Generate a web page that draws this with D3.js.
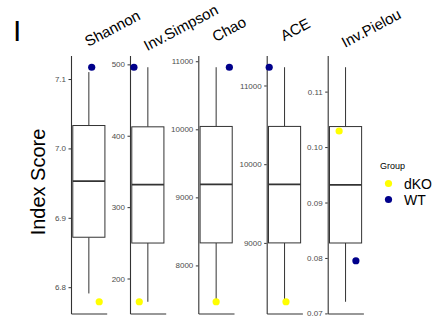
<!DOCTYPE html>
<html>
<head>
<meta charset="utf-8">
<script src="https://cdn.jsdelivr.net/npm/d3@7"></script>
<style>
  html, body { margin: 0; padding: 0; background: #fff; }
  svg { display: block; font-family: "Liberation Sans", Arial, Helvetica, sans-serif; }
</style>
</head>
<body>
<svg id="chart" width="445" height="327"></svg>
<script>
// ---- data ----
const metrics   = ["Shannon", "Inv.Simpson", "Chao", "ACE", "Inv.Pielou"];
const boxMin    = [6.791, 167.4, 7466, 8252, 0.0721];
const boxQ1     = [6.872, 249.7, 8331, 9000, 0.0827];
const boxMedian = [6.953, 331.6, 9192, 9744, 0.0932];
const boxQ3     = [7.033, 412.5, 10042, 10480, 0.1037];
const boxMax    = [7.110, 496.0, 10912, 11232, 0.1144];
const groups    = ["dKO", "WT"];
const groupColors = ["#FFFF00", "#00008B"];
const dKO       = [6.779, 167.4, 7466, 8252, 0.1029];
const WT        = [7.117, 496.0, 10912, 11232, 0.0795];
const jitterDKO = [0.79, 0.26, 0.50, 0.54, 0.32];
const jitterWT  = [0.58, 0.11, 0.87, 0.07, 0.79];
const tickValues = [
  [6.8, 6.9, 7.0, 7.1],
  [200, 300, 400, 500],
  [8000, 9000, 10000, 11000],
  [9000, 10000, 11000],
  [0.07, 0.08, 0.09, 0.10, 0.11]
];
const tickLabels = [
  ["6.8", "6.9", "7.0", "7.1"],
  ["200", "300", "400", "500"],
  ["8000", "9000", "10000", "11000"],
  ["9000", "10000", "11000"],
  ["0.07", "0.08", "0.09", "0.10", "0.11"]
];

// ---- layout ----
const panelLeft = [71, 130, 198.3, 266.7, 327.7];
const panelW = 35.7;
const panelTop = 55.5, panelBottom = 313.5;
const boxLineColor = "#333333";

const svg = d3.select("#chart");
svg.append("rect").attr("width", 445).attr("height", 327).attr("fill", "#fff");

metrics.forEach((m, i) => {
  const lo = Math.min(boxMin[i], dKO[i], WT[i]);
  const hi = Math.max(boxMax[i], dKO[i], WT[i]);
  const pad = (hi - lo) * 0.05;
  const y = d3.scaleLinear().domain([lo - pad, hi + pad]).range([panelBottom, panelTop]);
  const x = d3.scaleLinear().domain([0, 1]).range([panelLeft[i], panelLeft[i] + panelW]);
  const g = svg.append("g");

  // y axis
  const yAxis = d3.axisLeft(y)
    .tickValues(tickValues[i])
    .tickFormat((d, k) => tickLabels[i][k])
    .tickSize(2.5).tickSizeOuter(0).tickPadding(2.5);
  const ya = g.append("g").attr("transform", `translate(${panelLeft[i]},0)`).call(yAxis);
  ya.select(".domain").attr("stroke", "#333").attr("stroke-width", 1.1);
  ya.selectAll(".tick line").attr("stroke", "#333").attr("stroke-width", 1);
  ya.selectAll(".tick text").attr("fill", "#4D4D4D").style("font-size", "8px");

  // x axis line (no ticks)
  const xa = g.append("g").attr("transform", `translate(0,${panelBottom})`)
    .call(d3.axisBottom(x).tickValues([]).tickSizeOuter(0));
  xa.select(".domain").attr("stroke", "#333").attr("stroke-width", 1.1);

  // boxplot
  const cx = x(0.5);
  g.append("line").attr("x1", cx).attr("x2", cx).attr("y1", y(boxMax[i])).attr("y2", y(boxQ3[i]))
    .attr("stroke", boxLineColor).attr("stroke-width", 1);
  g.append("line").attr("x1", cx).attr("x2", cx).attr("y1", y(boxQ1[i])).attr("y2", y(boxMin[i]))
    .attr("stroke", boxLineColor).attr("stroke-width", 1);
  g.append("rect").attr("x", x(0.05)).attr("width", x(0.95) - x(0.05))
    .attr("y", y(boxQ3[i])).attr("height", y(boxQ1[i]) - y(boxQ3[i]))
    .attr("fill", "#fff").attr("stroke", boxLineColor).attr("stroke-width", 1);
  g.append("line").attr("x1", x(0.05)).attr("x2", x(0.95))
    .attr("y1", y(boxMedian[i])).attr("y2", y(boxMedian[i]))
    .attr("stroke", boxLineColor).attr("stroke-width", 1.7);

  // points
  g.append("circle").attr("cx", x(jitterDKO[i])).attr("cy", y(dKO[i])).attr("r", 3.6).attr("fill", groupColors[0]);
  g.append("circle").attr("cx", x(jitterWT[i])).attr("cy", y(WT[i])).attr("r", 3.6).attr("fill", groupColors[1]);

  // strip label
  const t = svg.append("text").text(m).style("font-size", "15px").attr("fill", "#000");
  const L = t.node().getComputedTextLength();
  const sx = cx - 0.5, sy = 46 + 0.2 * (L - 55);
  t.attr("transform", `translate(${sx},${sy}) rotate(-28)`);
});

// y axis title
svg.append("text").text("Index Score")
  .attr("transform", "translate(45,182) rotate(-90)")
  .attr("text-anchor", "middle").style("font-size", "20px").attr("fill", "#000");

// panel tag
svg.append("text").text("I").attr("x", 13).attr("y", 40.7)
  .style("font-size", "30px").attr("fill", "#000");

// legend
const lg = svg.append("g");
lg.append("text").text("Group").attr("x", 380).attr("y", 169).style("font-size", "9px").attr("fill", "#000");
groups.forEach((gName, k) => {
  const yy = 183.5 + k * 16;
  lg.append("circle").attr("cx", 388.5).attr("cy", yy).attr("r", 3.6).attr("fill", groupColors[k]);
  lg.append("text").text(gName).attr("x", 404).attr("y", yy + 5).style("font-size", "14px").attr("fill", "#000");
});
</script>
</body>
</html>
